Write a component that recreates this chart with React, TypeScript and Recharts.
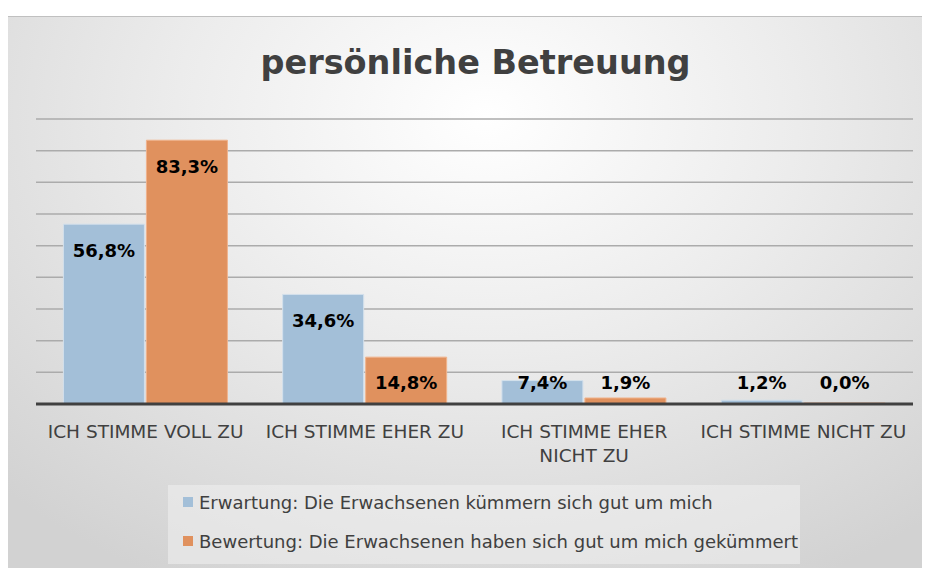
import React from "react";
import { Bar, BarChart, CartesianGrid, LabelList, XAxis, YAxis } from "recharts";

// "\n" marks where the reference wraps the axis label
const categories = ["ICH STIMME VOLL ZU", "ICH STIMME EHER ZU", "ICH STIMME EHER\nNICHT ZU", "ICH STIMME NICHT ZU"];
const erwartung = [0.568, 0.346, 0.074, 0.012];
const bewertung = [0.833, 0.148, 0.019, 0.0];
const yTicks = [0, 0.1, 0.2, 0.3, 0.4, 0.5, 0.6, 0.7, 0.8, 0.9];
const seriesNames = [
  "Erwartung: Die Erwachsenen kümmern sich gut um mich",
  "Bewertung: Die Erwachsenen haben sich gut um mich gekümmert",
];

const data = categories.map((c, i) => ({ cat: c, erw: erwartung[i], bew: bewertung[i] }));

const FONT = "'DejaVu Sans', sans-serif";
const W = 922, H = 552;

const pct = (v: number) => (v * 100).toFixed(1).replace(".", ",") + "%";

function ValueLabel(props: any) {
  const { x, y, width, height, value } = props;
  const top = Math.min(y, y + height);
  const base = Math.max(y, y + height);
  const cy = Math.min(top + 26, base - 22);
  return (
    <text x={x + width / 2} y={cy} textAnchor="middle" dominantBaseline="central"
      fontFamily={FONT} fontWeight={700} fontSize={18} fill="#000">
      {pct(value)}
    </text>
  );
}

function CatTick(props: any) {
  const { x, y, payload } = props;
  const lines = String(payload.value).split("\n");
  return (
    <text x={x} y={y} textAnchor="middle" fontFamily={FONT} fontSize={18.5} fill="#404040">
      {lines.map((l, i) => (
        <tspan key={i} x={x} dy={i === 0 ? 26 : 24}>{l}</tspan>
      ))}
    </text>
  );
}

export default function App() {
  return (
    <div style={{
      position: "relative", width: W, height: H, marginTop: 8, marginLeft: -1,
      background: "radial-gradient(ellipse 75% 95% at 52% 18%, #ffffff 0%, #ececec 45%, #d2d2d2 100%)",
      borderTop: "1px solid #c0c0c0", borderLeft: "1px solid #e8e8e8", boxSizing: "border-box",
    }}>
      <div style={{
        position: "absolute", left: 14, right: 0, top: 26, textAlign: "center",
        fontFamily: FONT, fontWeight: 700, fontSize: 33.5, color: "#404040",
      }}>persönliche Betreuung</div>
      <BarChart width={W} height={H} data={data}
        margin={{ top: 102, right: 17, left: 28, bottom: 0 }}
        barCategoryGap="12.5%" barGap={2}>
        <CartesianGrid horizontal vertical={false} stroke="#ababab" strokeWidth={1.5} />
        <YAxis hide domain={[0, 0.9]} ticks={yTicks} />
        <XAxis dataKey="cat" height={165} tickLine={false} interval={0}
          axisLine={{ stroke: "#404040", strokeWidth: 3 }} tick={<CatTick />} />
        <Bar dataKey="erw" fill="#a3bfd8" stroke="#d3e0ec" strokeWidth={1} minPointSize={1} isAnimationActive={false}>
          <LabelList dataKey="erw" content={<ValueLabel />} />
        </Bar>
        <Bar dataKey="bew" fill="#e0915e" stroke="#f0b38c" strokeWidth={1} minPointSize={1} isAnimationActive={false}>
          <LabelList dataKey="bew" content={<ValueLabel />} />
        </Bar>
      </BarChart>
      <div style={{
        position: "absolute", left: 160, top: 468, width: 632, height: 79,
        background: "rgba(240,240,240,0.55)", fontFamily: FONT, fontSize: 18, color: "#404040",
      }}>
        {seriesNames.map((n, i) => (
          <div key={n} style={{ position: "absolute", left: 15, top: 6 + i * 39, height: 22, display: "flex", alignItems: "center" }}>
            <span style={{ display: "inline-block", width: 10, height: 10, marginRight: 6, background: i === 0 ? "#a3bfd8" : "#e0915e" }} />
            <span>{n}</span>
          </div>
        ))}
      </div>
    </div>
  );
}
